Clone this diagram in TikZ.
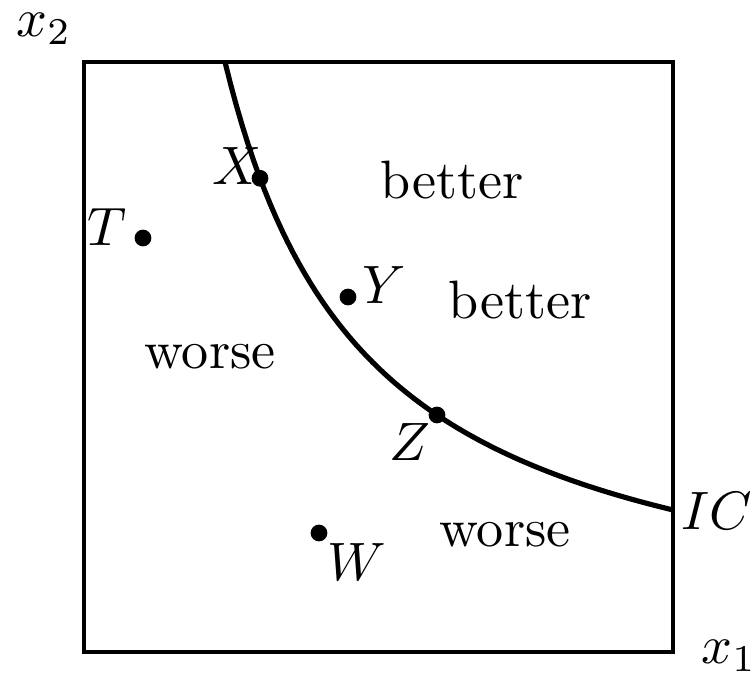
\documentclass[tikz,border=0pt]{standalone}
\begin{document}
\begin{tikzpicture}[
        x=0.0065cm, y=0.0065cm,
        dot/.style={circle, fill=black, inner sep=0pt, minimum size=3.1pt},
        lbl/.style={inner sep=0pt},
        region/.style={inner sep=0pt, font=\normalsize}
    ]
        \useasboundingbox (-84,-22) rectangle (672,652);

        % Box and axes labels
        \draw[line width=0.65pt] (0,0) rectangle (589,590);
        \node[lbl] (xtwo) at (-40,623) {$x_2$};
        \node[lbl] (xone) at (645,-4) {$x_1$};

        % Indifference curve
        \draw[line width=0.95pt] plot[domain=141:589, samples=80] ({\x}, {100*(843.96/(\x+1.84))-0.84});
        \node[lbl, anchor=west] (ic) at (596,141) {$IC$};

        % Bundles
        \node[dot] (X) at (176,473.7) {};
        \node[dot] (Z) at (353,237) {};
        \node[dot] (T) at (59,414) {};
        \node[dot] (Y) at (264,355) {};
        \node[dot] (W) at (235,119) {};

        \node[lbl] (Xl) at (153,486) {$X$};
        \node[lbl] (Zl) at (326,210) {$Z$};
        \node[lbl] (Tl) at (23,425) {$T$};
        \node[lbl] (Yl) at (300,367) {$Y$};
        \node[lbl] (Wl) at (273,90) {$W$};

        % Regions
        \node[region] (better1) at (368,472) {better};
        \node[region] (better2) at (436,352) {better};
        \node[region] (worse1) at (126,295) {worse};
        \node[region] (worse2) at (421,117) {worse};

    \end{tikzpicture}
\end{document}
